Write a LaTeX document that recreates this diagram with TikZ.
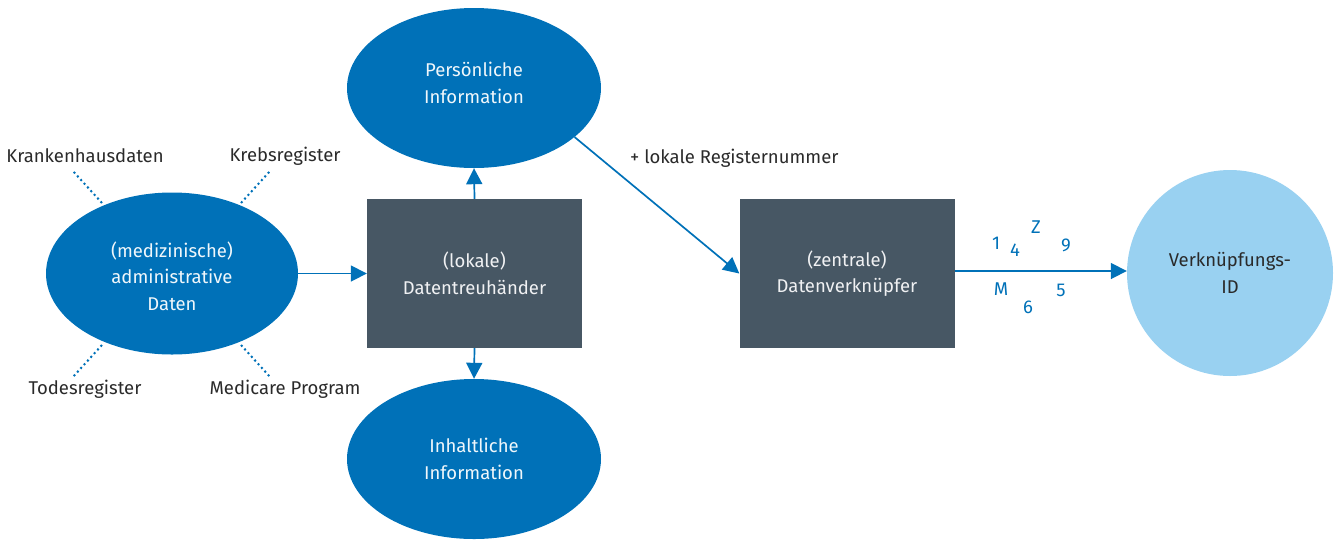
\documentclass[tikz,border=0pt]{standalone}
\usepackage{fontspec}
\setmainfont{Fira Sans}
\usetikzlibrary{arrows.meta,shapes.geometric}
\definecolor{ublue}{HTML}{0071B8}
\definecolor{slate}{HTML}{475764}
\definecolor{skyblue}{HTML}{99D1F1}
\definecolor{ink}{HTML}{2A2A2A}
\tikzset{
  every node/.style={font=\fontsize{18.5}{26.5}\selectfont, align=center, inner sep=0pt},
  blob/.style={ellipse, fill=ublue, text=white!94!ublue, minimum width=254pt, minimum height=160pt},
  stepbox/.style={rectangle, fill=slate, text=white!92!slate, minimum width=215pt, minimum height=149pt},
  target/.style={circle, fill=skyblue, text=ink, minimum size=206pt},
  lbl/.style={text=ink},
  code/.style={text=ublue},
  flow/.style={draw=ublue, line width=1.7pt, -{Triangle[length=16pt,width=16pt]}},
  feed/.style={draw=ublue, line width=2pt, dash pattern=on 2pt off 3pt}
}
\begin{document}
\begin{tikzpicture}[x=1pt,y=-1pt]
\useasboundingbox (0,0) rectangle (1341,542);
% main elements
\node[blob, minimum width=252pt, minimum height=162pt] (admin) at (172,273.5) {};
\node[text=white!94!ublue] (admintxt) at (172,276) {(medizinische)\\administrative\\Daten};
\node[blob] (pers) at (474,88) {};
\node[text=white!94!ublue] (perstxt) at (474,83) {Persönliche\\Information};
\node[blob] (inhalt) at (474,459) {Inhaltliche\\Information};
\node[stepbox] (treu) at (474.5,273.5) {(lokale)\\Datentreuhänder};
\node[stepbox] (verk) at (847,273.5) {(zentrale)\\Datenverknüpfer};
\node[target] (id) at (1230,273) {Verknüpfungs-\\ID};
% data sources around the administrative data
\node[lbl] (kh) at (85,156) {Krankenhausdaten};
\node[lbl] (kr) at (285,156) {Krebsregister};
\node[lbl] (td) at (85,389) {Todesregister};
\node[lbl] (mp) at (285,389) {Medicare Program};
\coordinate (khE) at (102,203);
\coordinate (krE) at (241,203);
\coordinate (tdE) at (102,345);
\coordinate (mpE) at (241,345);
\draw[feed] (khE) -- ++(-30,-33);
\draw[feed] (krE) -- ++(30,-33);
\draw[feed] (tdE) -- ++(-30,33);
\draw[feed] (mpE) -- ++(30,33);
% flows
\draw[flow] (admin.east) -- (treu.west |- admin.east);
\draw[flow] (treu.north) -- (pers.south);
\draw[flow] (treu.south) -- (inhalt.north);
\draw[flow] (pers.-26) -- (verk.west);
\draw[flow] (verk.east |- 0,271) -- (id.west |- 0,271);
\node[lbl, anchor=west] (reg) at (630,158) {+ lokale Registernummer};
% scrambled identifier characters
\node[code] (c1) at (996,243) {1};
\node[code] (c4) at (1015,250) {4};
\node[code] (cz) at (1036,227) {Z};
\node[code] (c9) at (1066,245) {9};
\node[code] (cm) at (1001,289) {M};
\node[code] (c6) at (1028,307) {6};
\node[code] (c5) at (1061,290) {5};
\end{tikzpicture}
\end{document}
